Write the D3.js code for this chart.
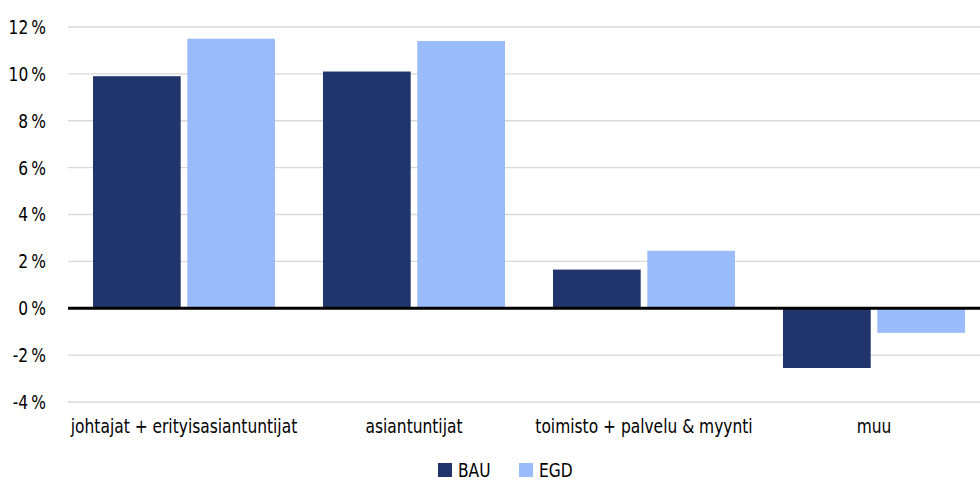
<!DOCTYPE html>
<html><head><meta charset="utf-8">
<script src="https://cdn.jsdelivr.net/npm/d3@7"></script>
<style>
html,body{margin:0;padding:0;background:#fff;}
svg{display:block;}
text{font-family:"DejaVu Sans Condensed","DejaVu Sans",sans-serif;fill:#000;}
</style></head>
<body>
<svg id="chart" width="980" height="483"></svg>
<script>
const categories = ["johtajat + erityisasiantuntijat", "asiantuntijat", "toimisto + palvelu & myynti", "muu"];
const seriesNames = ["BAU", "EGD"];
const bau = [9.9, 10.1, 1.65, -2.55];
const egd = [11.5, 11.4, 2.45, -1.05];
const yTicks = [-4, -2, 0, 2, 4, 6, 8, 10, 12];
const colors = ["#1f356b", "#9bbcfa"];

const FONT = "'DejaVu Sans Condensed','DejaVu Sans',sans-serif";
const SX = 0.86;
const svg = d3.select("#chart");
const left = 68, right = 980;
const x = d3.scaleBand().domain(categories).range([69, 989]).paddingInner(0).paddingOuter(0);
const x1 = d3.scaleBand().domain(seriesNames).range([24, 230 - 24]).paddingInner(0.07);
const y = d3.scaleLinear().domain([-4, 12]).range([402, 27]);

// gridlines
svg.append("g").selectAll("line").data(yTicks.filter(d => d !== 0)).join("line")
  .attr("x1", left).attr("x2", right)
  .attr("y1", d => y(d)).attr("y2", d => y(d))
  .attr("stroke", "#d9d9d9").attr("stroke-width", 1.3);

// y tick labels
const yAxis = d3.axisLeft(y).tickValues(yTicks).tickSize(0).tickPadding(0)
  .tickFormat(d => d + "\u2009%");
const ga = svg.append("g").attr("transform", "translate(46,0)").call(yAxis);
ga.select(".domain").remove();
ga.selectAll("text").attr("font-size", 20).style("font-family", FONT).attr("fill", "#000")
  .attr("transform", `scale(${SX},1)`);

// bars
const data = categories.map((c, i) => ({c, vals: [bau[i], egd[i]]}));
const groups = svg.append("g").selectAll("g").data(data).join("g")
  .attr("transform", d => `translate(${x(d.c)},0)`);
groups.selectAll("rect").data(d => d.vals.map((v, j) => ({v, s: seriesNames[j], j}))).join("rect")
  .attr("x", d => x1(d.s)).attr("width", x1.bandwidth())
  .attr("y", d => y(Math.max(0, d.v)))
  .attr("height", d => Math.abs(y(d.v) - y(0)))
  .attr("fill", d => colors[d.j]);

// zero line
svg.append("line").attr("x1", left).attr("x2", right)
  .attr("y1", y(0)).attr("y2", y(0)).attr("stroke", "#000").attr("stroke-width", 3);

// x labels
const xAxis = d3.axisBottom(x).tickSize(0).tickPadding(0);
const gx = svg.append("g").attr("transform", "translate(0,419)").call(xAxis);
gx.select(".domain").remove();
gx.selectAll("text").attr("font-size", 20).style("font-family", FONT).attr("fill", "#000")
  .attr("transform", `scale(${SX},1)`);

// legend
const leg = svg.append("g").attr("transform", "translate(438,463)");
const items = leg.selectAll("g").data(seriesNames).join("g")
  .attr("transform", (d, i) => `translate(${i * 81},0)`);
items.append("rect").attr("width", 14).attr("height", 14).attr("fill", (d, i) => colors[i]);
items.append("g").attr("transform", "translate(20,7)")
  .append("text").attr("dy", "0.36em").attr("font-size", 20)
  .attr("transform", `scale(${SX},1)`).text(d => d);
</script>
</body></html>
